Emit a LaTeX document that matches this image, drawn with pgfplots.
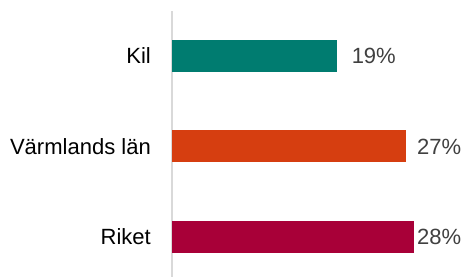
\documentclass[border=0pt]{standalone}
\usepackage{pgfplots}
\pgfplotsset{compat=1.18}
\usepackage{fontspec}
\setmainfont{Liberation Sans}
\definecolor{cKil}{RGB}{0,124,112}
\definecolor{cVarm}{RGB}{214,62,16}
\definecolor{cRiket}{RGB}{168,0,56}
\definecolor{valgray}{RGB}{64,64,64}
\definecolor{axgray}{RGB}{217,217,217}
\begin{document}
\begin{tikzpicture}
\begin{axis}[
  at={(0,0)}, anchor=south west,
  scale only axis, width=285.8bp, height=266bp,
  xmin=0, xmax=33, ymin=-0.497, ymax=2.442, y dir=reverse,
  axis x line=none, axis y line*=left,
  y axis line style={axgray, line width=1.5bp},
  ytick={0,1,2}, yticklabels={Kil, Värmlands län, Riket},
  major tick length=0pt,
  yticklabel style={font=\fontsize{22.1}{24}\selectfont, inner sep=0pt, xshift=-21bp, text=black},
  point meta=x,
  nodes near coords={\pgfmathprintnumber[assume math mode=true]{\pgfplotspointmeta}\%},
  every node near coord/.append style={font=\fontsize{22.1}{24}\selectfont, text=valgray, inner sep=0pt, anchor=west},
  clip=false,
  mybar/.style={xbar, bar width=32bp, bar shift=0pt, draw=none},
]
\addplot[mybar, fill=cKil, every node near coord/.append style={xshift=15bp}] coordinates {(19,0)};
\addplot[mybar, fill=cVarm, every node near coord/.append style={xshift=11bp}] coordinates {(27,1)};
\addplot[mybar, fill=cRiket, every node near coord/.append style={xshift=2.5bp}] coordinates {(28,2)};
\end{axis}
\pgfresetboundingbox
\path[use as bounding box] (-172bp,0) rectangle (290bp,277bp);
\end{tikzpicture}
\end{document}
